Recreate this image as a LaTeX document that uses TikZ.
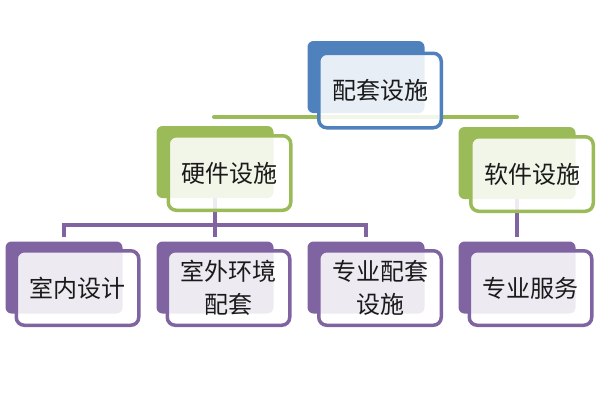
\documentclass[tikz,border=0pt]{standalone}
\usepackage{fontspec}
\setmainfont{Noto Sans CJK SC}
\usetikzlibrary{calc}
\pgfdeclarelayer{lines}
\pgfsetlayers{lines,main}
\definecolor{cblue}{HTML}{4F81BD}
\definecolor{cgreen}{HTML}{9BBB59}
\definecolor{cpurple}{HTML}{8064A2}
\definecolor{ctext}{HTML}{1A1A1A}
\tikzset{
  backbox/.style={fill=#1, draw=none, rounded corners=6pt, minimum width=117pt, minimum height=72pt, inner sep=0pt, outer sep=0pt},
  frontbox/.style={draw=#1, line width=3.5pt, fill=white, fill opacity=0.87, text opacity=1, rounded corners=8pt,
    minimum width=122.5pt, minimum height=74.5pt, inner sep=0pt, outer sep=0pt, align=center,
    font=\fontsize{24pt}{33pt}\selectfont, text=ctext},
  conn/.style={draw=#1, line width=4pt},
}
\begin{document}
\begin{tikzpicture}[x=1pt, y=-1pt]
\useasboundingbox (0,0) rectangle (600,400);
\coordinate (pbar) at (0,225);
% back boxes
\node[backbox=cblue] (tb) at (366,77) {};
\node[backbox=cgreen] (hwb) at (215,162) {};
\node[backbox=cgreen] (swb) at (517,163) {};
\node[backbox=cpurple] (c1b) at (64,277.5) {};
\node[backbox=cpurple] (c2b) at (215,277.5) {};
\node[backbox=cpurple] (c3b) at (366,277.5) {};
\node[backbox=cpurple] (c4b) at (517,277.5) {};
% front boxes
\node[frontbox=cblue] (t) at ($(tb)+(14,13.5)$) {配套设施};
\node[frontbox=cgreen] (hw) at ($(hwb)+(14.5,11)$) {硬件设施};
\node[frontbox=cgreen] (sw) at ($(swb)+(15,11)$) {软件设施};
\node[frontbox=cpurple] (c1) at ($(c1b)+(13.5,10.5)$) {室内设计};
\node[frontbox=cpurple] (c2) at ($(c2b)+(13.5,10.5)$) {室外环境\\配套};
\node[frontbox=cpurple] (c3) at ($(c3b)+(14,10.5)$) {专业配套\\设施};
\node[frontbox=cpurple] (c4) at ($(c4b)+(13.5,10.5)$) {专业服务};
% connectors behind
\begin{pgfonlayer}{lines}
\draw[conn=cgreen, line cap=round] ($(hwb.north)+(-1,-9)$) coordinate (gl) -- (gl -| swb.north);
\draw[conn=cpurple] ($(c1b.north)+(0,-5)$) |- (c3b.north |- pbar) -- ($(c3b.north)+(0,-5)$);
\draw[conn=cpurple] (hwb.center) -- ($(c2b.north)+(0,-5)$);
\draw[conn=cpurple] (swb.center) -- ($(c4b.north)+(0,-5)$);
\end{pgfonlayer}
\end{tikzpicture}
\end{document}
